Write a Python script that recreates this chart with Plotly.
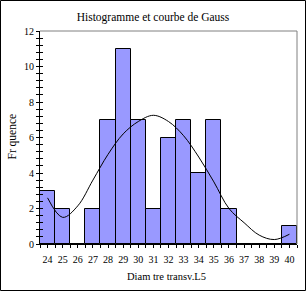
import plotly.graph_objects as go

categories = [24, 25, 26, 27, 28, 29, 30, 31, 32, 33, 34, 35, 36, 37, 38, 39, 40]
counts = [3, 2, 0, 2, 7, 11, 7, 2, 6, 7, 4, 7, 2, 0, 0, 0, 1]
gauss = [2.6, 1.5, 2.15, 3.6, 5.05, 6.2, 6.9, 7.25, 6.9, 6.1, 4.9, 3.5, 2.0, 1.2, 0.5, 0.25, 0.55]

title_text = "Histogramme et courbe de Gauss"
x_title = "Diam\u00a0tre transv.L5"
y_title = "Fr\u00a0quence"

W, H = 306, 291
L, R, T, B = 40, 9, 31, 47
pw, ph = W - L - R, H - T - B

FONT = "Liberation Serif"

fig = go.Figure()
fig.add_trace(go.Bar(
    x=categories, y=counts, width=1,
    marker=dict(color="#9999FF", line=dict(color="black", width=1)),
    showlegend=False, hoverinfo="skip",
))
fig.add_trace(go.Scatter(
    x=categories, y=gauss, mode="lines",
    line=dict(color="black", width=1, shape="spline", smoothing=1.0),
    yaxis="y2", showlegend=False, hoverinfo="skip",
))

fig.update_layout(
    width=W, height=H,
    margin=dict(l=L, r=R, t=T, b=B),
    paper_bgcolor="white", plot_bgcolor="white",
    font=dict(family=FONT, color="black", size=10),
    bargap=0,
    title=dict(text=title_text, x=0.5, xanchor="center", y=1 - 17 / H, yanchor="middle",
               font=dict(family=FONT, size=11.5, color="black")),
    xaxis=dict(
        range=[23.5, 40.5], tickmode="linear", tick0=24, dtick=1,
        ticks="outside", ticklen=3, tickcolor="black", tickwidth=1,
        minor=dict(tickmode="linear", tick0=23.5, dtick=0.5, ticks="outside", ticklen=3,
                   tickcolor="black", tickwidth=1),
        showline=True, linecolor="black", linewidth=1, showgrid=False, zeroline=False,
        tickfont=dict(family=FONT, size=10), ticklabelstandoff=3, fixedrange=True,
    ),
    yaxis=dict(
        range=[0, 12], tickmode="linear", tick0=0, dtick=2,
        ticks="outside", ticklen=3, tickcolor="black", tickwidth=1,
        minor=dict(tickmode="linear", tick0=0, dtick=0.4, ticks="outside", ticklen=3,
                   tickcolor="black", tickwidth=1),
        showline=True, linecolor="black", linewidth=1, showgrid=False, zeroline=False,
        tickfont=dict(family=FONT, size=10), fixedrange=True,
    ),
    yaxis2=dict(
        range=[0, 12], overlaying="y", side="left", tickmode="linear", tick0=0, dtick=0.4,
        ticks="inside", ticklen=3, tickcolor="black", tickwidth=1,
        showticklabels=False, showline=False, showgrid=False, zeroline=False, fixedrange=True,
    ),
    annotations=[
        dict(text=x_title, xref="paper", yref="paper",
             x=(166.5 - L) / pw, y=(H - B - 276) / ph, xanchor="center", yanchor="middle",
             showarrow=False, font=dict(family=FONT, size=10.5)),
        dict(text=y_title, xref="paper", yref="paper", textangle=-90,
             x=(12 - L) / pw, y=(H - B - 136.5) / ph, xanchor="center", yanchor="middle",
             showarrow=False, font=dict(family=FONT, size=11.5)),
    ],
    shapes=[
        dict(type="line", xref="paper", yref="paper", x0=0, x1=1, y0=1, y1=1,
             line=dict(color="#808080", width=1)),
        dict(type="line", xref="paper", yref="paper", x0=1, x1=1, y0=0, y1=1,
             line=dict(color="#808080", width=1)),
        dict(type="rect", xref="paper", yref="paper",
             x0=(0.5 - L) / pw, x1=(W - 0.5 - L) / pw,
             y0=(H - B - (H - 0.5)) / ph, y1=(H - B - 0.5) / ph,
             line=dict(color="black", width=1), layer="above"),
    ],
)

fig.write_html("out.html")
